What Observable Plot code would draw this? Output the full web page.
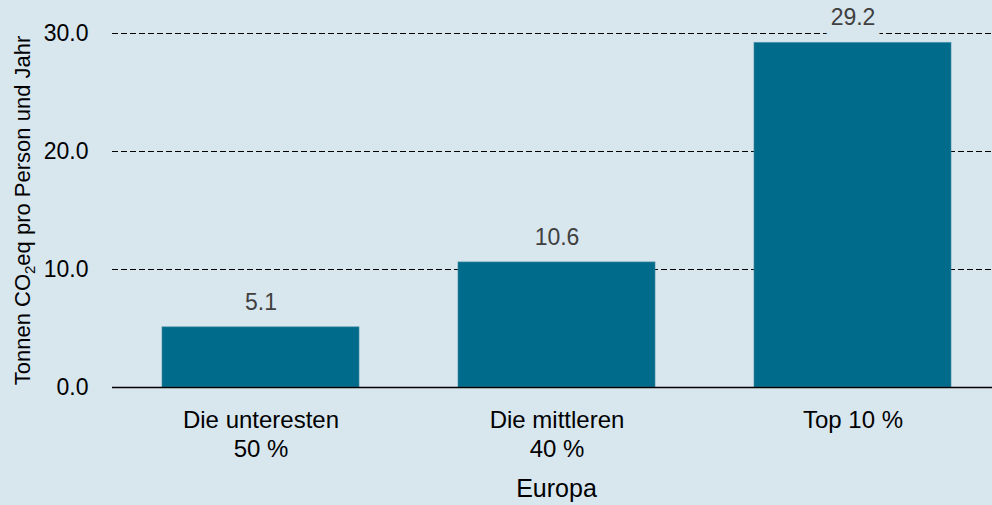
<!DOCTYPE html>
<html><head><meta charset="utf-8">
<script src="https://cdn.jsdelivr.net/npm/d3@7"></script>
<script src="https://cdn.jsdelivr.net/npm/@observablehq/plot@0.6"></script>
<style>body{margin:0;background:#d8e6ee}</style>
</head><body><div id="chart"></div>
<script>
const categories = ["Die unteresten\n50 %", "Die mittleren\n40 %", "Top 10 %"];
const values = [5.1, 10.6, 29.2];
const yTicks = [0, 10, 20, 30];
const xTitle = "Europa";
const yTitleParts = ["Tonnen CO", "2", "eq pro Person und Jahr"];
const data = categories.map((c, i) => ({category: c, value: values[i]}));
const bg = "#d8e6ee";
const chart = Plot.plot({
  width: 992, height: 505,
  marginLeft: 112, marginRight: 0, marginTop: 33, marginBottom: 118,
  style: {background: bg, fontFamily: "'Liberation Sans', Arial, sans-serif", fontSize: "23px", color: "#000"},
  x: {domain: categories, paddingInner: 0.335, paddingOuter: 0.15, align: 0.55, label: null},
  y: {domain: [0, 30], label: null},
  marks: [
    Plot.ruleY(yTicks.filter(d => d > 0), {stroke: "#000", strokeWidth: 1.2, strokeDasharray: "6,3"}),
    Plot.barY(data, {x: "category", y: "value", fill: "#006b8a", stroke: "#3f8ba5", strokeWidth: 1, strokeOpacity: 0.6}),
    Plot.ruleY([0], {stroke: "#000", strokeWidth: 1.6}),
    Plot.axisY({ticks: yTicks, tickFormat: d => d.toFixed(1), tickSize: 0, tickPadding: 24, fontSize: 23, label: null}),
    Plot.axisX({tickSize: 0, tickPadding: 20, fontSize: 24, lineHeight: 1.2, label: null}),
    Plot.text(data, {x: "category", y: "value", text: d => d.value.toFixed(1), dy: -25, lineAnchor: "middle", fill: "#404040", fontSize: 23, stroke: bg, strokeWidth: 20}),
    Plot.text([xTitle], {frameAnchor: "bottom", text: d => d, dy: 101, dx: 4, fontSize: 25, lineAnchor: "middle"}),
    Plot.text([yTitleParts.join("")], {frameAnchor: "left", text: d => d, rotate: -90, dx: -90, fontSize: 22, textAnchor: "middle", lineAnchor: "middle"})
  ]
});
document.getElementById("chart").appendChild(chart);
// render subscript 2 in the y title
d3.select(chart).selectAll("text").each(function() {
  const t = d3.select(this);
  if (t.text() === yTitleParts.join("")) {
    t.text(null);
    t.append("tspan").text(yTitleParts[0]);
    t.append("tspan").text(yTitleParts[1]).attr("font-size", 15).attr("dy", 5);
    t.append("tspan").text(yTitleParts[2]).attr("dy", -5);
  }
});
</script>
</body></html>
